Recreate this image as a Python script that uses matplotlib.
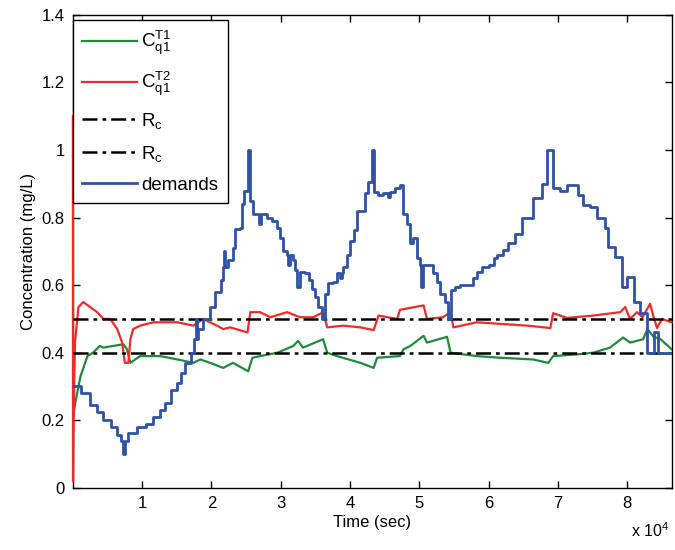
import numpy as np
import matplotlib
matplotlib.use("Agg")
import matplotlib.pyplot as plt

plt.rcParams['font.family'] = ['Liberation Sans', 'DejaVu Sans']
plt.rcParams['mathtext.default'] = 'regular'

# ---- data (time in units of 10^4 s) ----
green_t = [0.00, 0.06, 0.11, 0.21, 0.29, 0.39, 0.44, 0.58, 0.73, 0.78, 0.83, 0.97, 1.26, 1.51,
           1.74, 1.84, 1.98, 2.17, 2.31, 2.53, 2.59, 2.70, 2.95, 3.18, 3.25, 3.32, 3.61, 3.67,
           3.81, 4.15, 4.34, 4.39, 4.72, 4.77, 4.87, 5.06, 5.11, 5.40, 5.45, 5.83, 6.17, 6.64,
           6.86, 6.93, 7.28, 7.51, 7.75, 7.94, 8.04, 8.23, 8.29, 8.38, 8.48, 8.64]
green_v = [0.21, 0.28, 0.33, 0.39, 0.40, 0.42, 0.415, 0.42, 0.425, 0.41, 0.37, 0.39, 0.39, 0.38,
           0.37, 0.38, 0.37, 0.355, 0.37, 0.345, 0.385, 0.39, 0.40, 0.42, 0.435, 0.415, 0.44, 0.40,
           0.39, 0.37, 0.355, 0.385, 0.39, 0.41, 0.42, 0.45, 0.43, 0.447, 0.40, 0.39, 0.385, 0.38,
           0.37, 0.39, 0.395, 0.40, 0.415, 0.445, 0.43, 0.44, 0.47, 0.447, 0.44, 0.41]

red_t = [0.00, 0.002, 0.01, 0.03, 0.08, 0.15, 0.25, 0.35, 0.44, 0.54, 0.64, 0.71, 0.75, 0.80,
         0.83, 0.87, 0.97, 1.16, 1.51, 1.74, 1.88, 2.08, 2.17, 2.27, 2.52, 2.56, 2.70, 2.85,
         3.09, 3.28, 3.47, 3.61, 3.67, 3.90, 4.15, 4.34, 4.41, 4.68, 4.72, 5.06, 5.11, 5.34,
         5.45, 5.49, 5.83, 6.56, 6.89, 6.93, 7.13, 7.51, 7.90, 7.97, 8.04, 8.14, 8.22, 8.33,
         8.38, 8.43, 8.50, 8.64]
red_v = [1.10, 0.02, 0.22, 0.43, 0.535, 0.55, 0.535, 0.52, 0.50, 0.50, 0.47, 0.43, 0.37, 0.37,
         0.44, 0.47, 0.48, 0.49, 0.49, 0.48, 0.50, 0.48, 0.47, 0.475, 0.46, 0.52, 0.52, 0.505,
         0.52, 0.505, 0.505, 0.52, 0.475, 0.48, 0.475, 0.467, 0.51, 0.50, 0.527, 0.54, 0.50, 0.505,
         0.52, 0.475, 0.49, 0.48, 0.473, 0.517, 0.503, 0.51, 0.52, 0.535, 0.50, 0.52, 0.505, 0.545,
         0.505, 0.473, 0.50, 0.49]

demand_t = [0.00, 0.12, 0.25, 0.35, 0.44, 0.55, 0.64, 0.70, 0.73, 0.75, 0.80, 0.93, 1.05, 1.16,
            1.25, 1.33, 1.41, 1.50, 1.56, 1.62, 1.70, 1.75, 1.77, 1.79, 1.81, 1.88, 1.98, 2.05,
            2.13, 2.17, 2.18, 2.19, 2.24, 2.31, 2.34, 2.41, 2.44, 2.47, 2.53, 2.55, 2.56, 2.60,
            2.69, 2.72, 2.80, 2.88, 2.95, 2.99, 3.03, 3.09, 3.11, 3.13, 3.17, 3.21, 3.24, 3.27,
            3.35, 3.40, 3.45, 3.50, 3.54, 3.60, 3.64, 3.68, 3.76, 3.81, 3.86, 3.88, 3.90, 3.96,
            4.00, 4.05, 4.10, 4.22, 4.26, 4.32, 4.35, 4.41, 4.48, 4.54, 4.58, 4.65, 4.72, 4.77,
            4.82, 4.87, 4.91, 4.97, 5.01, 5.03, 5.05, 5.19, 5.26, 5.30, 5.37, 5.42, 5.46, 5.52,
            5.59, 5.78, 5.83, 5.91, 6.00, 6.07, 6.12, 6.21, 6.28, 6.38, 6.48, 6.64, 6.77, 6.84,
            6.93, 7.03, 7.13, 7.29, 7.36, 7.46, 7.56, 7.68, 7.72, 7.82, 7.93, 8.00, 8.09, 8.19,
            8.29, 8.38, 8.45, 8.64]
demand_v = [0.30, 0.28, 0.245, 0.225, 0.20, 0.18, 0.157, 0.14, 0.10, 0.14, 0.163, 0.18, 0.19, 0.21,
            0.23, 0.25, 0.29, 0.31, 0.34, 0.37, 0.40, 0.44, 0.50, 0.44, 0.47, 0.50, 0.535, 0.58,
            0.615, 0.655, 0.70, 0.655, 0.675, 0.71, 0.767, 0.77, 0.84, 0.88, 1.00, 0.88, 0.85, 0.81,
            0.78, 0.81, 0.80, 0.79, 0.77, 0.74, 0.70, 0.69, 0.66, 0.69, 0.675, 0.645, 0.595, 0.64,
            0.635, 0.615, 0.59, 0.565, 0.535, 0.50, 0.575, 0.605, 0.61, 0.635, 0.62, 0.635, 0.655, 0.69,
            0.73, 0.763, 0.82, 0.872, 0.905, 1.00, 0.876, 0.867, 0.872, 0.861, 0.876, 0.888, 0.896, 0.81,
            0.78, 0.725, 0.74, 0.68, 0.66, 0.595, 0.66, 0.635, 0.61, 0.575, 0.55, 0.50, 0.585, 0.595,
            0.60, 0.62, 0.64, 0.655, 0.66, 0.68, 0.69, 0.705, 0.725, 0.75, 0.80, 0.857, 0.90, 1.00,
            0.888, 0.88, 0.896, 0.867, 0.837, 0.83, 0.80, 0.77, 0.713, 0.684, 0.595, 0.625, 0.55, 0.518,
            0.40, 0.46, 0.40, 0.40]

rc_high = 0.5
rc_low = 0.4
t_end = 8.64

xticks = [1, 2, 3, 4, 5, 6, 7, 8]
yticks = [0, 0.2, 0.4, 0.6, 0.8, 1.0, 1.2, 1.4]
ytick_labels = ['0', '0.2', '0.4', '0.6', '0.8', '1', '1.2', '1.4']

scale = 1e4

fig = plt.figure(figsize=(6.75, 5.5), dpi=100)
ax = fig.add_axes([0.108, 0.113, 0.887, 0.860])

ax.plot(np.array(green_t) * scale, green_v, color='#1f8a3c', lw=1.6, label='$C_{q1}^{T1}$', zorder=3)
ax.plot(np.array(red_t) * scale, red_v, color='#ee2a2a', lw=1.6, label='$C_{q1}^{T2}$', zorder=3,
        clip_on=False)
ax.plot([0, t_end * scale], [rc_high, rc_high], color='black', lw=1.8, ls=(0, (6, 2, 1.5, 2)),
        label='$R_c$', zorder=3)
ax.plot([0, t_end * scale], [rc_low, rc_low], color='black', lw=1.8, ls=(0, (6, 2, 1.5, 2)),
        label='$R_c$', zorder=3)
ax.plot(np.array(demand_t) * scale, demand_v, color='#2f52a6', lw=2.0, drawstyle='steps-post',
        label='demands', zorder=3)

ax.set_xlim(0, t_end * scale)
ax.set_ylim(0, 1.4)
ax.set_xticks(np.array(xticks) * scale)
ax.set_xticklabels([str(v) for v in xticks])
ax.set_yticks(yticks)
ax.set_yticklabels(ytick_labels)
ax.tick_params(direction='in', length=5, width=1, top=True, right=True, labelsize=12, pad=6)
for s in ax.spines.values():
    s.set_linewidth(1.0)

ax.set_xlabel('Time (sec)', fontsize=12, labelpad=3)
ax.set_ylabel('Concentration (mg/L)', fontsize=12, labelpad=4)
fig.text(0.935, 0.018, 'x 10$^4$', fontsize=11.5, ha='left', va='bottom')

leg = ax.legend(loc='upper left', bbox_to_anchor=(0.0, 0.99), borderaxespad=0.0, fontsize=13.5,
                fancybox=False, edgecolor='black', framealpha=1.0, handlelength=2.9,
                labelspacing=0.68, borderpad=0.5, handletextpad=0.25)
leg.get_frame().set_linewidth(1.0)
leg.set_zorder(5)

fig.savefig('out.png', dpi=100)
